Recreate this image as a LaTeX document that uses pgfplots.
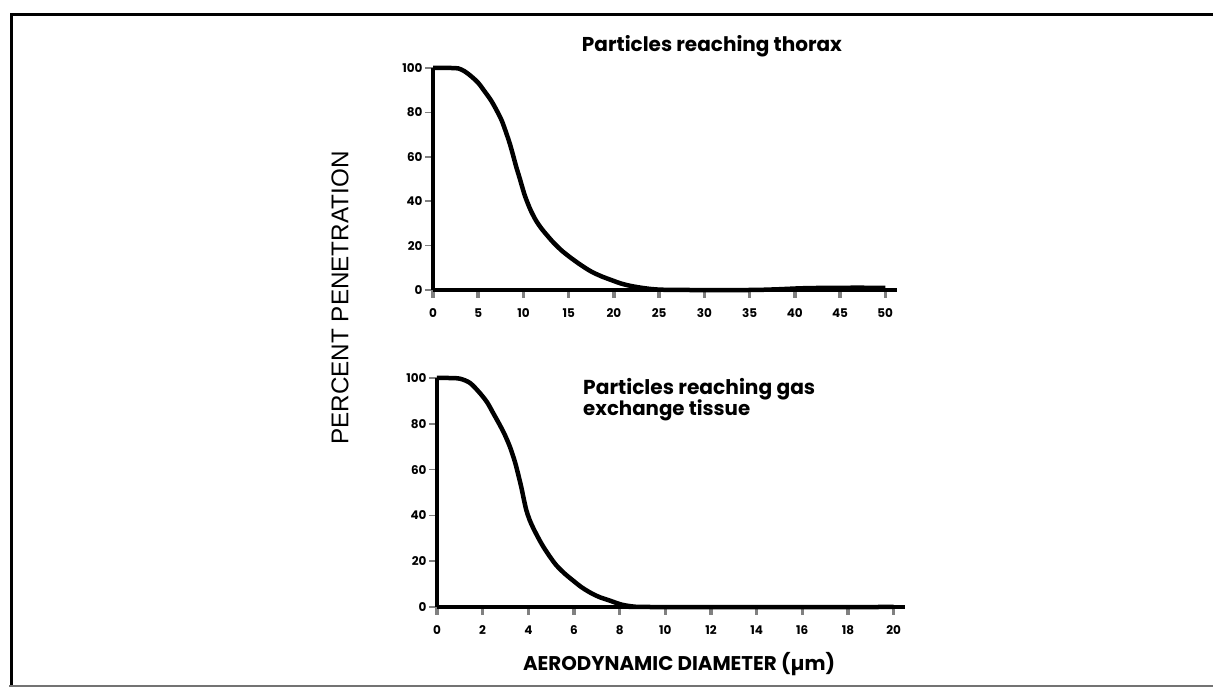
\documentclass[border=0pt]{standalone}
\usepackage{fontspec}
\setmainfont{Poppins}
\newfontfamily\arialf{Liberation Sans}
\usepackage{graphicx}
\usepackage{pgfplots}
\pgfplotsset{compat=1.18}

\pgfplotstableread{
x y
0 100
1 100
2 100
2.8 99.8
3.5 98.5
4.24 96.2
5 93.3
5.7 89.5
6.4 85.5
7.0 81.2
7.6 76.3
8.1 70.7
8.5 65.8
8.84 60.9
9.2 55.5
9.58 50.4
10.1 43.2
10.5 38.8
10.87 35.3
11.4 31.2
11.97 27.8
12.7 24.2
13.4 21
14.3 17.5
15.3 14.3
16.4 11.1
17.5 8.3
18.6 6.2
19.7 4.5
20.8 2.9
21.9 1.8
23.2 0.9
24.5 0.3
26 0.05
28 0
35 0
38 0.3
41 0.8
45 1.0
50 1.0
}\thorax

\pgfplotstableread{
x y
0 100
0.5 100
1.0 99.7
1.45 97.8
1.88 93.4
2.2 89.3
2.46 84.7
2.75 79.5
2.97 75.2
3.2 69.8
3.41 63.5
3.56 57.8
3.7 52.0
3.8 47.2
3.91 42.4
4.05 38.2
4.2 34.8
4.42 30.5
4.64 26.6
4.93 22.2
5.22 18.3
5.58 14.7
5.94 11.7
6.35 8.5
6.8 5.8
7.15 4.2
7.54 2.9
8.1 1.0
8.7 0.1
9.2 0
20 0
}\gasex

\pgfplotsset{
  myax/.style={
    scale only axis,
    axis lines=left,
    axis line style={line width=3.5pt,-},
    tick align=outside,
    major tick length=8pt,
    clip=false,
    ymin=0, ymax=100,
    ytick={0,20,...,100},
    /pgf/number format/assume math mode=true,
    ticklabel style={font=\fontsize{12}{14}\selectfont\bfseries},
    xtick style={line width=3.5pt},
    ytick style={line width=1.5pt},
    xticklabel style={yshift=-7pt},
    yticklabel style={xshift=1pt},
  },
  curve/.style={black, line width=4.5pt, smooth, tension=0.5, no markers},
}

\begin{document}
\begin{tikzpicture}[x=1pt,y=1pt]
\useasboundingbox (0,0) rectangle (1213,688);
% frame
\draw[line width=3pt] (1213,673) -- (11,673) -- (11,2);
\draw[line width=2pt, black!55] (9,2) -- (1213,2);

\begin{axis}[myax, at={(433pt,398pt)}, anchor=south west,
  width=464pt, height=222pt, xmin=0, xmax=51.3,
  xtick={0,5,...,50}]
\addplot[curve] table[x=x,y=y] {\thorax};
\end{axis}

\begin{axis}[myax, at={(437pt,81pt)}, anchor=south west,
  width=468pt, height=229pt, xmin=0, xmax=20.5,
  xtick={0,2,...,20}]
\addplot[curve] table[x=x,y=y] {\gasex};
\end{axis}

% titles and labels
\node[anchor=base] at (712,636) {\resizebox{260pt}{!}{\bfseries Particles reaching thorax}};
\node[anchor=base west, inner sep=0pt] at (583,293) {\resizebox{232pt}{!}{\bfseries Particles reaching gas}};
\node[anchor=base west, inner sep=0pt] at (583,272) {\resizebox{167pt}{!}{\bfseries exchange tissue}};
\node[anchor=base] at (679,17) {\resizebox{312pt}{!}{\bfseries AERODYNAMIC DIAMETER (µm)}};
\node[rotate=90] at (340,390) {\resizebox{293pt}{!}{\arialf PERCENT PENETRATION}};
\end{tikzpicture}
\end{document}
